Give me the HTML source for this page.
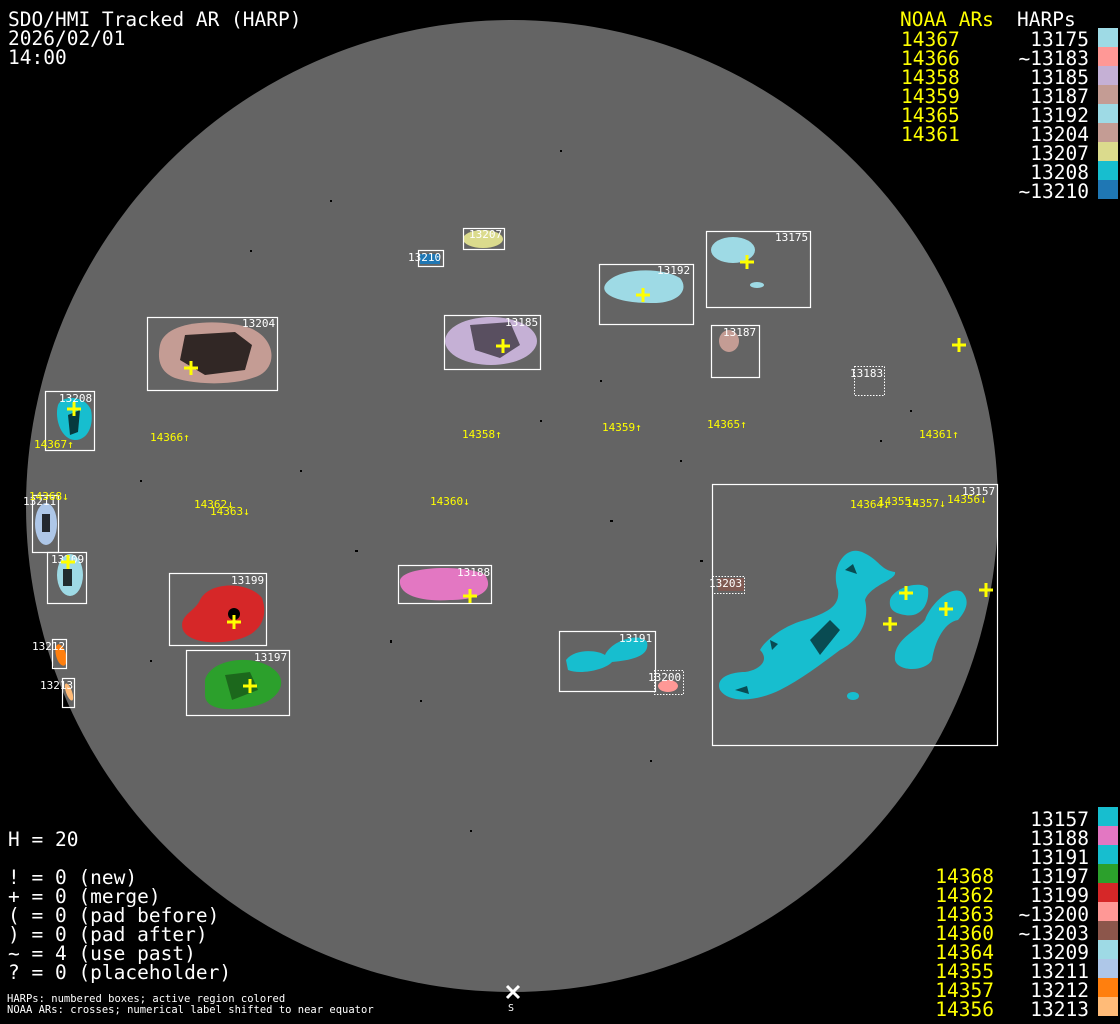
<!DOCTYPE html>
<html><head><meta charset="utf-8"><style>
html,body{margin:0;padding:0;background:#000;}
svg{display:block;}
text{font-family:"DejaVu Sans Mono","Liberation Mono",monospace;}
.t{fill:#fff;font-size:19.5px;}
.y{fill:#ffff00;font-size:19.5px;}
.s{fill:#fff;font-size:11px;}
.sy{fill:#ffff00;font-size:11px;}
.b{fill:none;stroke:#fff;stroke-width:1.2;}
.bd{fill:none;stroke:#fff;stroke-width:1;stroke-dasharray:1.5 1.5;}
.c{stroke:#ffff00;stroke-width:3;}
</style></head><body>
<svg width="1120" height="1024" viewBox="0 0 1120 1024" xmlns="http://www.w3.org/2000/svg">
<rect width="1120" height="1024" fill="#000"/>
<circle cx="512" cy="506" r="486" fill="#646464"/>

<path d="M160,345 C165,320 220,318 250,328 C275,338 278,365 260,375 C240,385 200,386 175,378 C160,372 157,360 160,345Z" fill="#c49c94"/>
<path d="M185,335 L235,332 L252,345 L245,370 L205,375 L180,360Z" fill="#000" opacity="0.75"/>
<ellipse cx="491" cy="341" rx="46" ry="24" fill="#c5b0d5"/>
<path d="M470,325 L510,322 L520,345 L500,358 L475,350Z" fill="#000" opacity="0.55"/>
<ellipse cx="483" cy="239" rx="20" ry="9" fill="#dbdb8d"/>
<rect x="420" y="254" width="20" height="10" fill="#1f77b4"/>
<path d="M605,285 C615,268 660,266 680,278 C690,290 678,304 650,303 C620,303 600,295 605,285Z" fill="#9edae5"/>
<ellipse cx="733" cy="250" rx="22" ry="13" fill="#9edae5"/>
<ellipse cx="757" cy="285" rx="7" ry="3" fill="#9edae5"/>
<ellipse cx="729" cy="341" rx="10" ry="11" fill="#c49c94"/>
<path d="M58,405 C62,395 85,395 91,410 C94,425 88,440 75,440 C62,440 54,420 58,405Z" fill="#17becf"/>
<path d="M68,415 L80,410 L78,432 L70,435Z" fill="#000" opacity="0.7"/>
<ellipse cx="46" cy="524" rx="11" ry="21" fill="#aec7e8"/>
<rect x="42" y="514" width="8" height="18" fill="#000" opacity="0.8"/>
<ellipse cx="70" cy="575" rx="13" ry="21" fill="#9edae5"/>
<rect x="63" y="569" width="9" height="17" fill="#000" opacity="0.8"/>
<ellipse cx="61" cy="655" rx="5" ry="11" fill="#ff7f0e" transform="rotate(-15 61 655)"/>
<ellipse cx="69" cy="692" rx="3" ry="9" fill="#ffbb78" transform="rotate(-20 69 692)"/>
<path d="M200,600 C210,580 250,582 262,598 C268,615 262,630 245,637 C225,645 190,645 183,630 C178,615 195,612 200,600Z" fill="#d62728"/>
<circle cx="234" cy="614" r="6" fill="#000"/>
<path d="M205,680 C210,660 250,653 272,668 C290,680 280,700 255,706 C230,712 205,710 205,695Z" fill="#2ca02c"/>
<path d="M225,675 L250,672 L258,690 L232,700Z" fill="#000" opacity="0.35"/>
<path d="M400,580 C405,565 470,565 485,575 C495,590 480,600 450,600 C420,602 398,595 400,580Z" fill="#e377c2"/>
<path d="M566,660 C575,648 598,650 605,655 C612,640 640,632 647,642 C650,655 635,660 612,662 C605,670 580,675 568,670Z" fill="#17becf"/>
<ellipse cx="668" cy="686" rx="10" ry="6" fill="#ff9896"/>
<rect x="718" y="578" width="26" height="13" fill="#8c564b" opacity="0.7"/>
<path d="M720,690 C715,678 730,672 745,672 C760,670 770,660 760,650 C765,640 785,625 805,620 C830,612 840,605 838,590 C830,568 845,545 862,552 C880,560 880,570 895,572 C897,580 870,585 865,600 C870,620 860,640 840,650 C820,665 800,680 780,690 C760,700 730,705 720,690Z" fill="#17becf"/>
<path d="M890,600 C893,588 920,580 928,588 C930,605 920,618 905,615 C892,613 889,608 890,600Z" fill="#17becf"/>
<path d="M895,660 C893,640 915,632 925,620 C930,605 950,585 962,592 C970,600 967,610 958,620 C945,622 935,640 932,660 C925,672 898,672 895,660Z" fill="#17becf"/>
<ellipse cx="853" cy="696" rx="6" ry="4" fill="#17becf"/>
<g fill="#000" opacity="0.6">
<path d="M810,640 L830,620 L840,630 L820,655Z"/><path d="M770,640 l8,4 -6,6Z"/><path d="M735,690 l12,-4 2,8Z"/><path d="M845,570 l8,-6 4,10Z"/>
</g>

<g fill="#000">
<rect x="300" y="470" width="2" height="2"/><rect x="355" y="550" width="3" height="2"/><rect x="540" y="420" width="2" height="2"/><rect x="610" y="520" width="3" height="2"/><rect x="420" y="700" width="2" height="2"/><rect x="650" y="760" width="2" height="2"/><rect x="330" y="200" width="2" height="2"/><rect x="560" y="150" width="2" height="2"/><rect x="470" y="830" width="2" height="2"/><rect x="390" y="640" width="2" height="3"/><rect x="150" y="660" width="2" height="2"/><rect x="880" y="440" width="2" height="2"/><rect x="910" y="410" width="2" height="2"/><rect x="700" y="560" width="3" height="2"/><rect x="140" y="480" width="2" height="2"/><rect x="600" y="380" width="2" height="2"/><rect x="250" y="250" width="2" height="2"/><rect x="680" y="460" width="2" height="2"/>
</g>

<rect class="b" x="147.5" y="317.5" width="130" height="73"/>
<rect class="b" x="444.5" y="315.5" width="96" height="54"/>
<rect class="b" x="463.5" y="228.5" width="41" height="21"/>
<rect class="b" x="418.5" y="250.5" width="25" height="16"/>
<rect class="b" x="599.5" y="264.5" width="94" height="60"/>
<rect class="b" x="706.5" y="231.5" width="104" height="76"/>
<rect class="b" x="711.5" y="325.5" width="48" height="52"/>
<rect class="bd" x="854.5" y="366.5" width="30" height="29"/>
<rect class="b" x="45.5" y="391.5" width="49" height="59"/>
<rect class="b" x="32.5" y="495.5" width="26" height="57"/>
<rect class="b" x="47.5" y="552.5" width="39" height="51"/>
<rect class="b" x="52.5" y="639.5" width="14" height="29"/>
<rect class="b" x="62.5" y="678.5" width="12" height="29"/>
<rect class="b" x="169.5" y="573.5" width="97" height="72"/>
<rect class="b" x="186.5" y="650.5" width="103" height="65"/>
<rect class="b" x="398.5" y="565.5" width="93" height="38"/>
<rect class="b" x="559.5" y="631.5" width="96" height="60"/>
<rect class="bd" x="654.5" y="670.5" width="29" height="24"/>
<rect class="b" x="712.5" y="484.5" width="285" height="261"/>
<rect class="bd" x="712.5" y="576.5" width="32" height="17"/>

<text class="s" x="242" y="327">13204</text>
<text class="s" x="505" y="326">13185</text>
<text class="s" x="469" y="238">13207</text>
<text class="s" x="408" y="261">13210</text>
<text class="s" x="657" y="274">13192</text>
<text class="s" x="775" y="241">13175</text>
<text class="s" x="723" y="336">13187</text>
<text class="s" x="850" y="377">13183</text>
<text class="s" x="59" y="402">13208</text>
<text class="s" x="23" y="505">13211</text>
<text class="s" x="51" y="563">13209</text>
<text class="s" x="32" y="650">13212</text>
<text class="s" x="40" y="689">13213</text>
<text class="s" x="231" y="584">13199</text>
<text class="s" x="254" y="661">13197</text>
<text class="s" x="457" y="576">13188</text>
<text class="s" x="619" y="642">13191</text>
<text class="s" x="648" y="681">13200</text>
<text class="s" x="962" y="495">13157</text>
<text class="s" x="709" y="587">13203</text>

<g class="c">
<path d="M184,368h14M191,361v14"/><path d="M496,346h14M503,339v14"/><path d="M636,295h14M643,288v14"/><path d="M740,262h14M747,255v14"/><path d="M952,345h14M959,338v14"/><path d="M67,409h14M74,402v14"/><path d="M61,562h14M68,555v14"/><path d="M227,622h14M234,615v14"/><path d="M243,686h14M250,679v14"/><path d="M463,596h14M470,589v14"/><path d="M899,593h14M906,586v14"/><path d="M939,609h14M946,602v14"/><path d="M883,624h14M890,617v14"/><path d="M979,590h14M986,583v14"/>
</g>

<text class="sy" x="150" y="441">14366↑</text>
<text class="sy" x="34" y="448">14367↑</text>
<text class="sy" x="462" y="438">14358↑</text>
<text class="sy" x="602" y="431">14359↑</text>
<text class="sy" x="707" y="428">14365↑</text>
<text class="sy" x="919" y="438">14361↑</text>
<text class="sy" x="29" y="500">14368↓</text>
<text class="sy" x="194" y="508">14362↓</text>
<text class="sy" x="210" y="515">14363↓</text>
<text class="sy" x="430" y="505">14360↓</text>
<text class="sy" x="850" y="508">14364↓</text>
<text class="sy" x="878" y="505">14355↓</text>
<text class="sy" x="906" y="507">14357↓</text>
<text class="sy" x="947" y="503">14356↓</text>

<path d="M507,986l12,12M519,986l-12,12" stroke="#fff" stroke-width="3"/>
<text class="s" x="508" y="1011" style="font-size:10px">S</text>

<text class="t" x="8" y="26">SDO/HMI Tracked AR (HARP)</text>
<text class="t" x="8" y="45">2026/02/01</text>
<text class="t" x="8" y="64">14:00</text>

<text class="y" x="900" y="26">NOAA ARs</text>
<text class="t" x="1017" y="26">HARPs</text>
<g class="y"><text x="901" y="46">14367</text><text x="901" y="65">14366</text><text x="901" y="84">14358</text><text x="901" y="103">14359</text><text x="901" y="122">14365</text><text x="901" y="141">14361</text></g>
<g class="t" text-anchor="end">
<text x="1089" y="46">13175</text><text x="1089" y="65">~13183</text><text x="1089" y="84">13185</text><text x="1089" y="103">13187</text><text x="1089" y="122">13192</text><text x="1089" y="141">13204</text><text x="1089" y="160">13207</text><text x="1089" y="179">13208</text><text x="1089" y="198">~13210</text>
</g>
<rect x="1098" y="28" width="20" height="19" fill="#9edae5"/>
<rect x="1098" y="47" width="20" height="19" fill="#ff9896"/>
<rect x="1098" y="66" width="20" height="19" fill="#c5b0d5"/>
<rect x="1098" y="85" width="20" height="19" fill="#c49c94"/>
<rect x="1098" y="104" width="20" height="19" fill="#9edae5"/>
<rect x="1098" y="123" width="20" height="19" fill="#c49c94"/>
<rect x="1098" y="142" width="20" height="19" fill="#dbdb8d"/>
<rect x="1098" y="161" width="20" height="19" fill="#17becf"/>
<rect x="1098" y="180" width="20" height="19" fill="#1f77b4"/>

<g class="y" text-anchor="end">
<text x="994" y="883">14368</text><text x="994" y="902">14362</text><text x="994" y="921">14363</text><text x="994" y="940">14360</text><text x="994" y="959">14364</text><text x="994" y="978">14355</text><text x="994" y="997">14357</text><text x="994" y="1016">14356</text>
</g>
<g class="t" text-anchor="end">
<text x="1089" y="826">13157</text><text x="1089" y="845">13188</text><text x="1089" y="864">13191</text><text x="1089" y="883">13197</text><text x="1089" y="902">13199</text><text x="1089" y="921">~13200</text><text x="1089" y="940">~13203</text><text x="1089" y="959">13209</text><text x="1089" y="978">13211</text><text x="1089" y="997">13212</text><text x="1089" y="1016">13213</text>
</g>
<rect x="1098" y="807" width="20" height="19" fill="#17becf"/>
<rect x="1098" y="826" width="20" height="19" fill="#e377c2"/>
<rect x="1098" y="845" width="20" height="19" fill="#17becf"/>
<rect x="1098" y="864" width="20" height="19" fill="#2ca02c"/>
<rect x="1098" y="883" width="20" height="19" fill="#d62728"/>
<rect x="1098" y="902" width="20" height="19" fill="#ff9896"/>
<rect x="1098" y="921" width="20" height="19" fill="#8c564b"/>
<rect x="1098" y="940" width="20" height="19" fill="#9edae5"/>
<rect x="1098" y="959" width="20" height="19" fill="#aec7e8"/>
<rect x="1098" y="978" width="20" height="19" fill="#ff7f0e"/>
<rect x="1098" y="997" width="20" height="19" fill="#ffbb78"/>

<text class="t" x="8" y="846">H = 20</text>
<g class="t">
<text x="8" y="884">! = 0 (new)</text><text x="8" y="903">+ = 0 (merge)</text><text x="8" y="922">( = 0 (pad before)</text><text x="8" y="941">) = 0 (pad after)</text><text x="8" y="960">~ = 4 (use past)</text><text x="8" y="979">? = 0 (placeholder)</text>
</g>
<text class="s" x="7" y="1002" style="font-size:10.5px">HARPs: numbered boxes; active region colored</text>
<text class="s" x="7" y="1013" style="font-size:10.5px">NOAA ARs: crosses; numerical label shifted to near equator</text>
</svg>
</body></html>
